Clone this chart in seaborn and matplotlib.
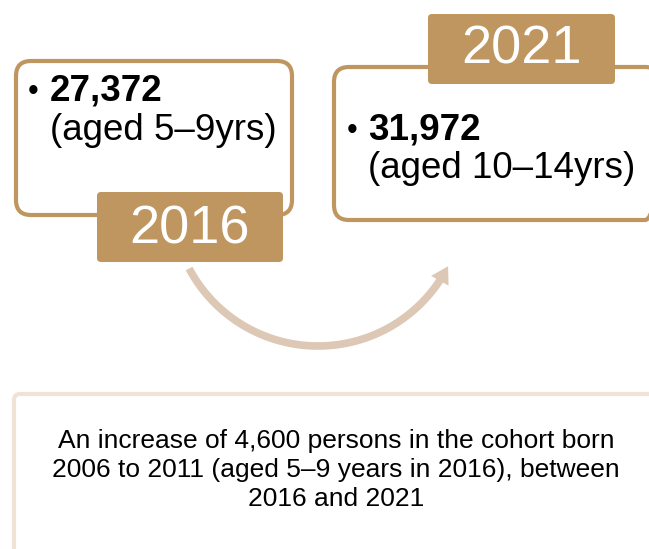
import numpy as np
import pandas as pd
import matplotlib
matplotlib.use("Agg")
import matplotlib.pyplot as plt
from matplotlib.patches import FancyBboxPatch
import seaborn as sns

# ---- data ----
years = ["2016", "2021"]
counts = ["27,372", "31,972"]
ages = ["(aged 5–9yrs)", "(aged 10–14yrs)"]
summary = ("An increase of 4,600 persons in the cohort born\n"
           "2006 to 2011 (aged 5–9 years in 2016), between\n"
           "2016 and 2021")

sns.set_theme(style="white")
plt.rcParams['font.family'] = ['Liberation Sans', 'DejaVu Sans']
plt.rcParams['text.color'] = 'black'

GOLD = "#BF9660"
ARC = "#DCC8B4"
LIGHT = "#F0E3D6"

fig = plt.figure(figsize=(6.49, 5.49), dpi=100)
ax = fig.add_axes([0, 0, 1, 1])
ax.set_xlim(0, 649)
ax.set_ylim(549, 0)
ax.axis("off")

def rbox(x0, y0, x1, y1, ec, fc="none", lw=3, r=15, z=1):
    p = FancyBboxPatch((x0, y0), x1 - x0, y1 - y0,
                       boxstyle=f"round,pad=0,rounding_size={r}",
                       ec=ec, fc=fc, lw=lw, zorder=z)
    ax.add_patch(p)

# outline boxes
rbox(16, 61, 292, 215, GOLD)
rbox(334, 67, 660, 220, GOLD)
# label boxes
rbox(97, 192, 283, 262, "none", fc=GOLD, r=4, z=3)
rbox(428, 14, 615, 84, "none", fc=GOLD, r=4, z=3)

ax.text(190, 229, years[0], color="white", fontsize=39, ha="center", va="center", zorder=4)
ax.text(521, 50, years[1], color="white", fontsize=39, ha="center", va="center", zorder=4)

# box text
ax.text(28, 92, "•", fontsize=22, ha="left", va="center")
ax.text(50, 91, counts[0], fontsize=26.5, fontweight="bold", ha="left", va="center")
ax.text(50, 131, ages[0], fontsize=26.5, ha="left", va="center")
ax.text(347, 131, "•", fontsize=22, ha="left", va="center")
ax.text(368, 130, counts[1], fontsize=26.5, fontweight="bold", ha="left", va="center")
ax.text(368, 168, ages[1], fontsize=26.5, ha="left", va="center")

# arc arrow
cx, cy, r = 318, 200, 146
th = np.deg2rad(np.linspace(152, 32, 100))
arc = pd.DataFrame({"x": cx + r * np.cos(th), "y": cy + r * np.sin(th)})
sns.lineplot(data=arc, x="x", y="y", sort=False, color=ARC, lw=5.5, ax=ax,
             solid_capstyle="butt", zorder=2)
the = np.deg2rad(27)
end = (cx + r * np.cos(the), cy + r * np.sin(the))
ax.annotate("", xy=end, xytext=(arc.x.iloc[-1], arc.y.iloc[-1]),
            arrowprops=dict(arrowstyle="-|>,head_length=1.0,head_width=0.6",
                            color=ARC, lw=0, shrinkA=0, shrinkB=0), zorder=2)

# bottom box
rbox(14, 394, 700, 600, LIGHT, lw=3, r=6)
ax.text(336, 470, summary, fontsize=19, ha="center", va="center",
        linespacing=1.25, color="black")

fig.savefig("out.png", dpi=100)
